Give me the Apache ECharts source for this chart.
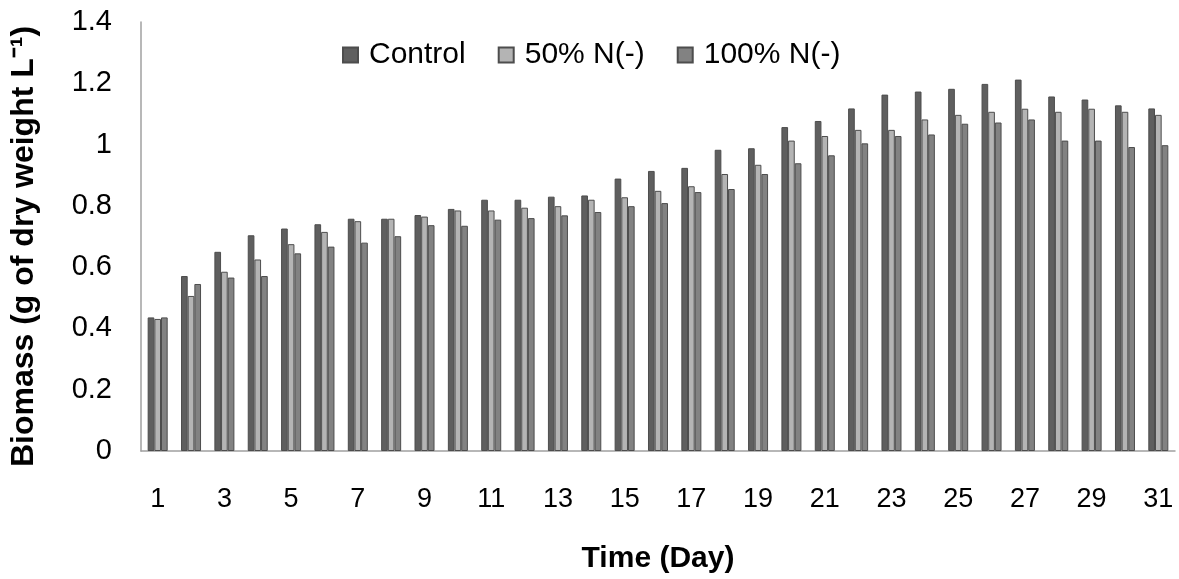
<!DOCTYPE html>
<html><head><meta charset="utf-8">
<script src="https://cdn.jsdelivr.net/npm/echarts@6/dist/echarts.min.js"></script>
<style>html,body{margin:0;padding:0;background:#fff}#c{width:1179px;height:579px}</style>
</head><body><div id="c"></div>
<script>
const days = Array.from({length:31},(_, i)=>String(i+1));
const control = [0.436,0.571,0.650,0.704,0.726,0.740,0.758,0.758,0.770,0.790,0.820,0.820,0.830,0.834,0.889,0.914,0.924,0.983,0.988,1.057,1.077,1.118,1.163,1.173,1.182,1.198,1.212,1.157,1.147,1.128,1.118];
const n50 = [0.431,0.506,0.585,0.625,0.675,0.715,0.750,0.758,0.765,0.785,0.785,0.794,0.799,0.820,0.828,0.849,0.864,0.904,0.934,1.013,1.028,1.048,1.048,1.082,1.097,1.107,1.117,1.107,1.117,1.107,1.097];
const n100 = [0.436,0.545,0.566,0.571,0.645,0.667,0.680,0.701,0.737,0.735,0.755,0.760,0.769,0.780,0.799,0.809,0.845,0.855,0.904,0.939,0.965,1.004,1.028,1.033,1.068,1.072,1.082,1.013,1.013,0.992,0.998];
const seriesNames = ['Control','50% N(-)','100% N(-)'];
const colors = ['#5f5f5f','#b4b4b4','#828282'];
const font = 'Liberation Sans, Arial, sans-serif';
const chart = echarts.init(document.getElementById('c'));
const mk = (name, data, i) => ({
  name, type:'bar', data, barGap:'0%', barCategoryGap:'40%',
  itemStyle:{color:colors[i], borderColor:'#4d4d4d', borderWidth:1},
  emphasis:{disabled:true}
});
chart.setOption({
  animation:false,
  backgroundColor:'#fff',
  legend:{top:35, left:337, icon:'rect', itemWidth:15, itemHeight:15, itemGap:32,
    textStyle:{fontFamily:font, fontSize:30, color:'#000', padding:[0,0,0,6]},
    data:seriesNames},
  grid:{left:139, right:4, top:22, bottom:125},
  xAxis:{type:'category', data:days,
    axisLine:{lineStyle:{color:'#a0a0a0', width:1.5}},
    axisTick:{show:false},
    axisLabel:{interval:1, fontFamily:font, fontSize:27, color:'#000', margin:35},
    name:'Time (Day)', nameLocation:'middle', nameGap:93,
    nameTextStyle:{fontFamily:font, fontSize:30, fontWeight:'bold', color:'#000'}},
  yAxis:{type:'value', min:0, max:1.4, interval:0.2,
    axisLine:{show:true, lineStyle:{color:'#a0a0a0', width:1.5}},
    axisTick:{show:false}, splitLine:{show:false},
    axisLabel:{fontFamily:font, fontSize:29, color:'#000', margin:29,
      formatter:v=>String(Math.round(v*10)/10)},
    name:'Biomass (g of dry weight L\u207B\u00B9)', nameLocation:'middle', nameGap:101,
    nameTextStyle:{fontFamily:font, fontSize:32, fontWeight:'bold', color:'#000', padding:[0,20,0,0]}},
  series:[mk(seriesNames[0],control,0), mk(seriesNames[1],n50,1), mk(seriesNames[2],n100,2)]
});
</script></body></html>
